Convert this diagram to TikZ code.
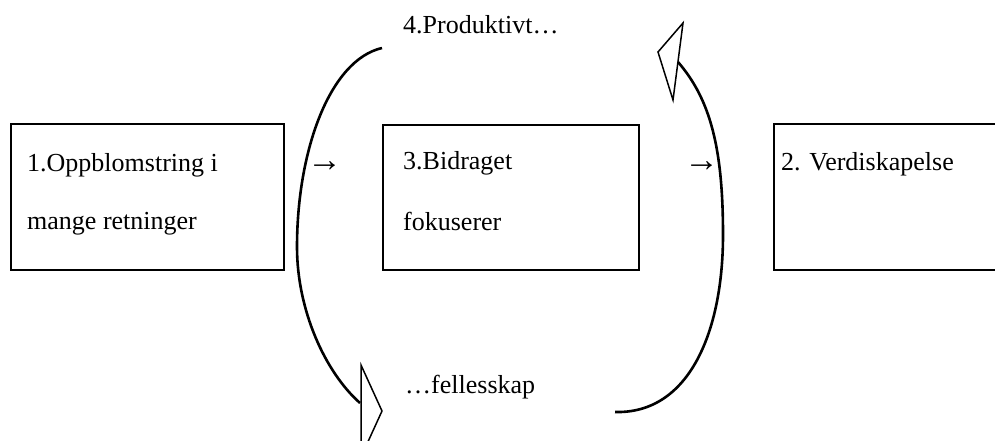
\documentclass[tikz,border=0pt]{standalone}
\usepackage{fontspec}
\setmainfont{Liberation Serif}
\begin{document}
\begin{tikzpicture}[x=1pt,y=-1pt,
  font=\fontsize{26}{30}\selectfont,
  box/.style={draw, line width=1.6pt, inner sep=0pt, anchor=north west},
  txt/.style={inner sep=0pt, anchor=base west},
  step arrow/.style={inner sep=0pt, anchor=base west, font=\fontsize{35}{40}\selectfont},
  loopline/.style={line width=2.6pt},
  openhead/.style={line width=1.5pt, line join=miter, fill=white}]
\useasboundingbox (0,0) rectangle (995,440);

% the three stage boxes
\node[box, minimum width=273pt, minimum height=146pt] (b1) at (10,123) {};
\node[box, minimum width=256pt, minimum height=145pt] (b3) at (382,124) {};
\node[box, minimum width=260pt, minimum height=146pt] (b2) at (773,123) {};

% box texts
\node[txt] (t1a) at (27,171) {1.Oppblomstring i};
\node[txt] (t1b) at (27,229) {mange retninger};
\node[txt] (t3a) at (403,169) {3.Bidraget};
\node[txt] (t3b) at (403,230) {fokuserer};
\node[txt] (t2)  at (781,170) {2. Verdiskapelse};

% small arrows between the boxes
\node[step arrow] (a1) at (307,171) {→};
\node[step arrow] (a2) at (684,171) {→};

% loop labels
\node[txt] (top) at (403,33) {4.Produktivt…};
\node[txt] (bot) at (405,393) {…fellesskap};

% left loop, from the top label down to the bottom label
\coordinate (L0) at (382,48);
\coordinate (Lm) at (297,247);
\coordinate (L1) at (360,403);
\draw[loopline] (L0) .. controls (330,60) and (297,150) .. (Lm)
                     .. controls (297,310) and (325,372) .. (L1);
\draw[openhead] (361,365) -- (382,411) -- (361,457) -- cycle;

% right loop, from the bottom label back up to the top label
\coordinate (R0) at (615,412);
\coordinate (Rm) at (723,235);
\coordinate (R1) at (678,62);
\draw[loopline] (R0) .. controls (690,414) and (723,330) .. (Rm)
                     .. controls (723,150) and (711,100) .. (R1);
\draw[openhead] (683,23) -- (658,52) -- (673,100) -- cycle;
\end{tikzpicture}
\end{document}
